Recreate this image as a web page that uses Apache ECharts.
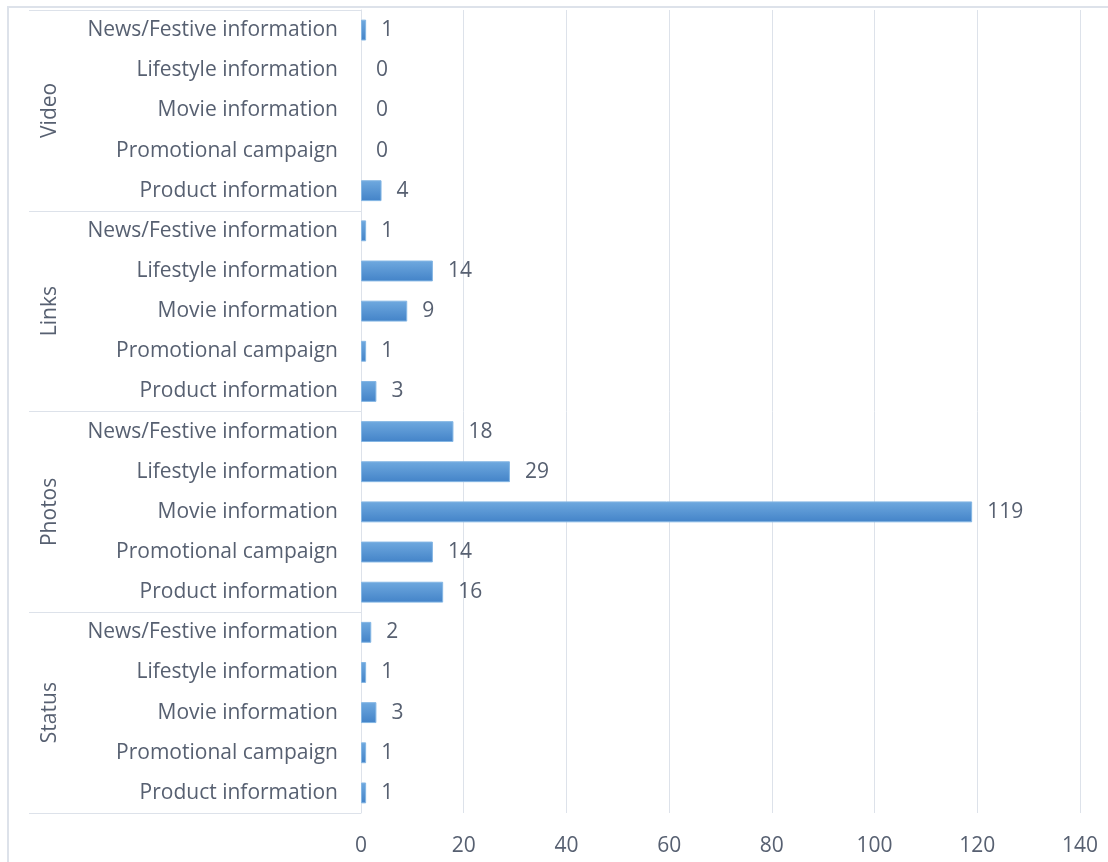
<!DOCTYPE html>
<html>
<head>
<meta charset="utf-8">
<script src="https://cdn.jsdelivr.net/npm/echarts@6/dist/echarts.min.js"></script>
<style>
  html, body { margin: 0; padding: 0; background: #ffffff; }
  #chart { width: 1108px; height: 862px; }
</style>
</head>
<body>
<div id="chart"></div>
<script>
// Post types (outer groups), listed top to bottom
const groups = ['Video', 'Links', 'Photos', 'Status'];
// Content categories inside each group, listed top to bottom
const subCategories = ['News/Festive information', 'Lifestyle information', 'Movie information', 'Promotional campaign', 'Product information'];
// Number of posts per content category
const videoCounts = [1, 0, 0, 0, 4];
const linksCounts = [1, 14, 9, 1, 3];
const photosCounts = [18, 29, 119, 14, 16];
const statusCounts = [2, 1, 3, 1, 1];
// Value axis ticks
const axisMin = 0;
const axisMax = 140;
const axisStep = 20;

const groupCounts = [videoCounts, linksCounts, photosCounts, statusCounts];
const SEP = '::';
const rowKeys = [];
const rowValues = [];
groups.forEach((g, gi) => {
  subCategories.forEach((c, ci) => {
    rowKeys.push(g + SEP + c);
    rowValues.push(groupCounts[gi][ci]);
  });
});

const textColor = '#576071';
const lineColor = '#dde2ea';
const fontFamily = '"Open Sans", Lato, sans-serif';
const fontSize = 21;

// zero-length bars get no outline so nothing is drawn for them
const barData = rowValues.map(v => ({
  value: v,
  itemStyle: { borderWidth: v === 0 ? 0 : 1 }
}));

const chart = echarts.init(document.getElementById('chart'), null, { renderer: 'canvas' });
chart.setOption({
  animation: false,
  backgroundColor: '#ffffff',
  graphic: [{
    type: 'rect',
    shape: { x: 8, y: 7, width: 1300, height: 1000 },
    style: { fill: 'none', stroke: lineColor, lineWidth: 2 },
    silent: true
  }],
  grid: { left: 361, right: 28, top: 10, bottom: 49, containLabel: false },
  xAxis: {
    type: 'value',
    min: axisMin,
    max: axisMax,
    interval: axisStep,
    axisLine: { show: false },
    axisTick: { show: false },
    splitLine: { show: true, lineStyle: { color: lineColor, width: 1 } },
    axisLabel: { color: textColor, fontFamily, fontSize, margin: 23 }
  },
  yAxis: [{
    type: 'category',
    data: rowKeys,
    inverse: true,
    position: 'left',
    axisLine: { show: false },
    axisTick: { show: false },
    axisLabel: {
      interval: 0,
      color: textColor, fontFamily, fontSize, margin: 23,
      padding: [4, 0, 0, 0],
      formatter: (v) => v.split(SEP)[1]
    }
  }, {
    type: 'category',
    data: groups,
    inverse: true,
    position: 'left',
    axisLine: { show: true, lineStyle: { color: lineColor, width: 1 } },
    axisTick: { show: true, length: 332, interval: 0, lineStyle: { color: lineColor, width: 1 } },
    axisLabel: { interval: 0, rotate: 90, color: textColor, fontFamily, fontSize, margin: 300 }
  }],
  series: [{
    type: 'bar',
    yAxisIndex: 0,
    data: barData,
    barWidth: '52%',
    itemStyle: {
      color: new echarts.graphic.LinearGradient(0, 0, 0, 1, [
        { offset: 0, color: '#6fa9df' },
        { offset: 1, color: '#4383c8' }
      ]),
      borderColor: '#84b6e4'
    },
    label: {
      show: true,
      position: 'right',
      distance: 15,
      padding: [5, 0, 0, 0],
      color: textColor,
      fontFamily,
      fontSize
    }
  }]
});
</script>
</body>
</html>
